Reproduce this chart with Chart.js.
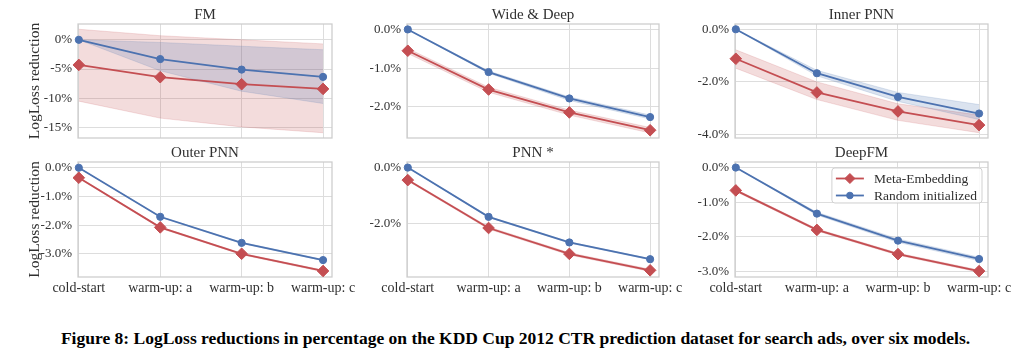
<!DOCTYPE html>
<html><head><meta charset="utf-8">
<script src="https://cdn.jsdelivr.net/npm/chart.js@4.4.1/dist/chart.umd.min.js"></script>
<style>
html,body{margin:0;padding:0;background:#fff;width:1031px;height:358px;overflow:hidden;position:relative}
.p{position:absolute}
.p canvas{display:block}
#cap{position:absolute;left:0;width:1031px;top:328px;line-height:20px;text-align:center;font-family:"Liberation Serif",serif;font-weight:bold;font-size:17.5px;color:#000;white-space:nowrap}
</style></head><body>
<div id="cap">Figure 8: LogLoss reductions in percentage on the KDD Cup 2012 CTR prediction dataset for search ads, over six models.</div>
<script>
// ---------- data ----------
const categories = ['cold-start', 'warm-up: a', 'warm-up: b', 'warm-up: c'];
const seriesNames = ['Meta-Embedding', 'Random initialized'];

// FM
const fmMeta   = [-4.3, -6.4, -7.6, -8.4];
const fmMetaHi = [1.8, 0.7, 0.0, -0.7];
const fmMetaLo = [-10.5, -13.4, -14.9, -15.9];
const fmRand   = [0, -3.3, -5.1, -6.35];
const fmRandHi = [0, -0.45, -1.1, -1.7];
const fmRandLo = [0, -5.3, -8.8, -10.9];
const fmTicks = [0, -5, -10, -15];
const fmTickLabels = ['0%', '-5%', '-10%', '-15%'];

// Wide & Deep
const wdMeta   = [-0.55, -1.55, -2.14, -2.60];
const wdMetaHi = [-0.49, -1.49, -2.08, -2.53];
const wdMetaLo = [-0.62, -1.62, -2.21, -2.67];
const wdRand   = [0, -1.10, -1.78, -2.26];
const wdRandHi = [0, -1.07, -1.74, -2.21];
const wdRandLo = [0, -1.13, -1.83, -2.31];
const wdTicks = [0, -1, -2];
const wdTickLabels = ['0.0%', '-1.0%', '-2.0%'];

// Inner PNN
const ipMeta   = [-1.12, -2.40, -3.12, -3.64];
const ipMetaHi = [-0.78, -2.00, -2.83, -3.26];
const ipMetaLo = [-1.48, -2.67, -3.46, -3.93];
const ipRand   = [0, -1.67, -2.57, -3.20];
const ipRandHi = [0, -1.56, -2.40, -2.86];
const ipRandLo = [0, -1.77, -2.74, -3.43];
const ipTicks = [0, -2, -4];
const ipTickLabels = ['0.0%', '-2.0%', '-4.0%'];

// Outer PNN
const opMeta   = [-0.35, -2.08, -3.00, -3.60];
const opMetaHi = [-0.33, -2.06, -2.98, -3.57];
const opMetaLo = [-0.37, -2.11, -3.03, -3.63];
const opRand   = [0, -1.71, -2.62, -3.22];
const opRandHi = [0, -1.70, -2.60, -3.20];
const opRandLo = [0, -1.73, -2.64, -3.24];
const opTicks = [0, -1, -2, -3];
const opTickLabels = ['0.0%', '-1.0%', '-2.0%', '-3.0%'];

// PNN *
const pnMeta   = [-0.45, -2.17, -3.10, -3.69];
const pnMetaHi = [-0.42, -2.13, -3.06, -3.65];
const pnMetaLo = [-0.48, -2.21, -3.14, -3.73];
const pnRand   = [0, -1.77, -2.69, -3.29];
const pnRandHi = [0, -1.75, -2.67, -3.27];
const pnRandLo = [0, -1.79, -2.71, -3.31];
const pnTicks = [0, -2];
const pnTickLabels = ['0.0%', '-2.0%'];

// DeepFM
const dfMeta   = [-0.66, -1.80, -2.50, -2.99];
const dfMetaHi = [-0.63, -1.77, -2.47, -2.96];
const dfMetaLo = [-0.69, -1.83, -2.53, -3.02];
const dfRand   = [0, -1.33, -2.11, -2.64];
const dfRandHi = [0, -1.29, -2.06, -2.59];
const dfRandLo = [0, -1.37, -2.16, -2.69];
const dfTicks = [0, -1, -2, -3];
const dfTickLabels = ['0.0%', '-1.0%', '-2.0%', '-3.0%'];

// ---------- layout / style ----------
const RED = '#c44e52', BLUE = '#4c72b0';
const rgba = (hex, a) => { const n = parseInt(hex.slice(1), 16); return `rgba(${n>>16},${(n>>8)&255},${n&255},${a})`; };
const FONT = '"Liberation Serif", serif';
const TEXT = '#303030';

const cols = [
  {plotL: 78,  plotR: 332, divL: 0,   divR: 372},
  {plotL: 407, plotR: 659, divL: 340, divR: 700},
  {plotL: 735, plotR: 988, divL: 680, divR: 1031}
];
const rows = [
  {plotT: 24,  plotB: 138, divT: 0,   divB: 148, xh: 0},
  {plotT: 162, plotB: 277, divT: 132, divB: 304, xh: 21}
];

const panels = [
  {title: 'FM', r: 0, c: 0, ylabel: true, lo: -16.8, hi: 2.7, ticks: fmTicks, labels: fmTickLabels,
   s: [fmMeta, fmMetaHi, fmMetaLo, fmRand, fmRandHi, fmRandLo]},
  {title: 'Wide & Deep', r: 0, c: 1, lo: -2.80, hi: 0.14, ticks: wdTicks, labels: wdTickLabels,
   s: [wdMeta, wdMetaHi, wdMetaLo, wdRand, wdRandHi, wdRandLo]},
  {title: 'Inner PNN', r: 0, c: 2, lo: -4.13, hi: 0.2, ticks: ipTicks, labels: ipTickLabels,
   s: [ipMeta, ipMetaHi, ipMetaLo, ipRand, ipRandHi, ipRandLo]},
  {title: 'Outer PNN', r: 1, c: 0, ylabel: true, lo: -3.81, hi: 0.2, ticks: opTicks, labels: opTickLabels,
   s: [opMeta, opMetaHi, opMetaLo, opRand, opRandHi, opRandLo]},
  {title: 'PNN *', r: 1, c: 1, lo: -3.93, hi: 0.2, ticks: pnTicks, labels: pnTickLabels,
   s: [pnMeta, pnMetaHi, pnMetaLo, pnRand, pnRandHi, pnRandLo]},
  {title: 'DeepFM', r: 1, c: 2, legend: true, lo: -3.16, hi: 0.16, ticks: dfTicks, labels: dfTickLabels,
   s: [dfMeta, dfMetaHi, dfMetaLo, dfRand, dfRandHi, dfRandLo]}
];

const pts = arr => arr.map((v, i) => ({x: i, y: v}));

const decor = {
  id: 'decor',
  beforeDatasetsDraw(chart, args, o) {
    const a = chart.chartArea, ctx = chart.ctx;
    ctx.save();
    ctx.strokeStyle = '#cccccc'; ctx.lineWidth = 1.25;
    ctx.strokeRect(a.left, a.top, a.right - a.left, a.bottom - a.top);
    ctx.restore();
  },
  afterDraw(chart, args, o) {
    const a = chart.chartArea, ctx = chart.ctx;
    ctx.save();
    ctx.fillStyle = TEXT;
    ctx.font = '15px ' + FONT;
    ctx.textAlign = 'center'; ctx.textBaseline = 'alphabetic';
    ctx.fillText(o.title, (a.left + a.right) / 2, a.top - 5);
    if (o.ylabel) {
      ctx.save();
      ctx.font = '15.5px ' + FONT;
      ctx.translate(35 - o.divL, (a.top + a.bottom) / 2);
      ctx.rotate(-Math.PI / 2);
      ctx.textBaseline = 'middle';
      ctx.fillText('LogLoss reduction', 0, 0);
      ctx.restore();
    }
    if (o.legend) {
      ctx.font = '13.5px ' + FONT;
      const tw = Math.max(...seriesNames.map(t => ctx.measureText(t).width));
      const bw = 4 + 28 + 10 + tw + 5, bh = 35;
      const bx = a.right - 6 - bw, by = a.top + 6;
      ctx.beginPath();
      ctx.roundRect(bx, by, bw, bh, 3);
      ctx.fillStyle = 'rgba(255,255,255,0.85)'; ctx.fill();
      ctx.strokeStyle = 'rgba(204,204,204,0.9)'; ctx.lineWidth = 1; ctx.stroke();
      const items = [[RED, 'rectRot', 5], [BLUE, 'circle', 3.3]];
      items.forEach(([col, ps, rad], i) => {
        const y = by + 10.5 + i * 17;
        ctx.strokeStyle = col; ctx.lineWidth = 1.8;
        ctx.beginPath(); ctx.moveTo(bx + 4, y); ctx.lineTo(bx + 32, y); ctx.stroke();
        ctx.fillStyle = col; ctx.lineWidth = 1;
        Chart.helpers.drawPoint(ctx, {pointStyle: ps, radius: rad, rotation: 0, borderWidth: 1}, bx + 18, y);
        ctx.fillStyle = TEXT; ctx.textAlign = 'left'; ctx.textBaseline = 'middle';
        ctx.fillText(seriesNames[i], bx + 42, y + 0.5);
      });
    }
    ctx.restore();
  }
};

panels.forEach(p => {
  const col = cols[p.c], row = rows[p.r];
  const W = col.divR - col.divL, H = row.divB - row.divT;
  const div = document.createElement('div');
  div.className = 'p';
  div.style.left = col.divL + 'px'; div.style.top = row.divT + 'px';
  div.style.width = W + 'px'; div.style.height = H + 'px';
  const cv = document.createElement('canvas');
  cv.width = W; cv.height = H; cv.style.width = W + 'px'; cv.style.height = H + 'px';
  div.appendChild(cv); document.body.appendChild(div);

  const [m, mHi, mLo, rd, rHi, rLo] = p.s;
  const band = (data, color, fill) => ({
    data: pts(data), fill: fill, backgroundColor: rgba(color, 0.2), borderColor: rgba(color, 0.22),
    borderWidth: 0.8, pointRadius: 0, tension: 0, clip: false
  });
  const line = (data, color, ps, rad) => ({
    data: pts(data), fill: false, borderColor: color, backgroundColor: color, borderWidth: 1.8,
    pointStyle: ps, pointRadius: rad, pointBorderWidth: 1, pointBorderColor: color, pointBackgroundColor: color,
    tension: 0, clip: false
  });
  const datasets = [
    band(rHi, BLUE, '+1'), band(rLo, BLUE, false), line(rd, BLUE, 'circle', 3.6),
    band(mHi, RED, '+1'), band(mLo, RED, false), line(m, RED, 'rectRot', 5.8)
  ];
  const bottomRow = p.r === 1;
  new Chart(cv, {
    type: 'line',
    data: {datasets},
    plugins: [decor],
    options: {
      responsive: false, animation: false, devicePixelRatio: 1,
      events: [],
      layout: {padding: {left: 0, top: row.plotT - row.divT, right: col.divR - col.plotR,
                         bottom: row.divB - row.plotB - row.xh}},
      plugins: {
        legend: {display: false}, tooltip: {enabled: false}, title: {display: false},
        filler: {drawTime: 'beforeDatasetsDraw'},
        decor: {title: p.title, ylabel: !!p.ylabel, legend: !!p.legend, divL: col.divL}
      },
      scales: {
        x: {
          type: 'linear', min: -0.01, max: 3.11,
          afterBuildTicks: s => { s.ticks = categories.map((c, i) => ({value: i})); },
          afterFit: s => { s.height = row.xh; s.paddingLeft = 0; s.paddingRight = 0; },
          grid: {color: '#dddddd', lineWidth: 1, drawTicks: false},
          border: {display: false},
          ticks: {display: bottomRow, padding: 3, color: TEXT, maxRotation: 0, autoSkip: false,
                  font: {family: FONT, size: 14},
                  callback: v => categories[Math.round(v)]}
        },
        y: {
          type: 'linear', min: p.lo, max: p.hi,
          afterBuildTicks: s => { s.ticks = p.ticks.map(v => ({value: v})); },
          afterFit: s => { s.width = col.plotL - col.divL; s.paddingTop = 0; s.paddingBottom = 0; },
          grid: {color: '#dddddd', lineWidth: 1, drawTicks: false},
          border: {display: false},
          ticks: {padding: 6, color: TEXT, autoSkip: false, font: {family: FONT, size: 13},
                  callback: v => p.labels[p.ticks.indexOf(v)]}
        }
      }
    }
  });
});
</script>
</body></html>
